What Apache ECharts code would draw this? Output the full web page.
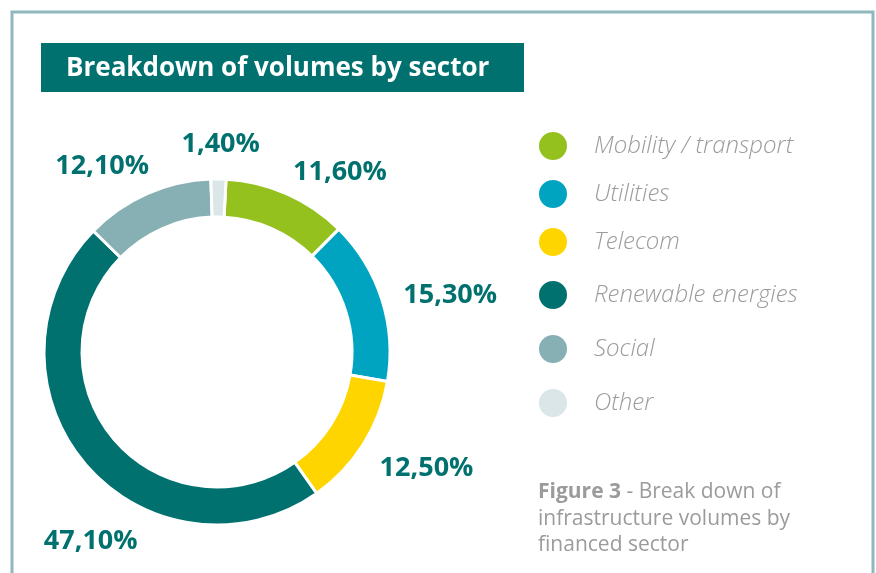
<!DOCTYPE html>
<html>
<head>
<meta charset="utf-8">
<title>Breakdown of volumes by sector</title>
<script src="https://cdn.jsdelivr.net/npm/echarts@6/dist/echarts.min.js"></script>
<style>
    html, body { margin: 0; padding: 0; background: #fff; }
    #sector { width: 876px; height: 573px; }
</style>
</head>
<body>
<div id="sector"></div>
<script>
    // 数据
    var sectors = ['Mobility / transport', 'Utilities', 'Telecom', 'Renewable energies', 'Social', 'Other'];
    var shares = [11.6, 15.3, 12.5, 47.1, 12.1, 1.4];
    var colors = ['#95c11f', '#00a4c1', '#ffd500', '#00716f', '#87b0b5', '#dae6e8'];
    // label nudges (dx, dy) from the default outside position
    var labelNudge = [[-3, -12], [7, -1], [3, 18], [65, 71], [11, -18], [-42, -25]];

    var pieData = [];
    for (var i = 0; i < sectors.length; i++) {
        pieData.push({ name: sectors[i], value: shares[i], itemStyle: { color: colors[i] } });
    }

    var font = 'Open Sans';
    var chart = echarts.init(document.getElementById('sector'));
    var option = {
        animation: false,
        title: [
            {
                text: 'Breakdown of volumes by sector',
                left: 61,
                top: 51,
                textStyle: { color: '#fff', fontFamily: font, fontWeight: 'bold', fontSize: 26 }
            },
            {
                text: '{b|Figure 3} - Break down of\ninfrastructure volumes by\nfinanced sector',
                left: 533,
                top: 474,
                textStyle: {
                    color: '#9b9b9b', fontFamily: font, fontWeight: 'normal', fontSize: 21, lineHeight: 26.5,
                    rich: { b: { fontWeight: 'bold', color: '#9b9b9b', fontFamily: font, fontSize: 21 } }
                }
            }
        ],
        graphic: [
            {
                type: 'rect', z: -1,
                shape: { x: 12, y: 12, width: 861, height: 620 },
                style: { fill: 'none', stroke: '#8fb8bd', lineWidth: 3 }
            },
            {
                type: 'rect', z: -1,
                shape: { x: 41, y: 43, width: 483, height: 49 },
                style: { fill: '#00716f' }
            }
        ],
        legend: [
            {
                orient: 'vertical', left: 532, top: 125,
                data: sectors.slice(0, 3),
                icon: 'circle', itemWidth: 30, itemHeight: 30, itemGap: 16,
                selectedMode: false,
                textStyle: { color: '#9b9b9b', fontFamily: font, fontStyle: 'italic', fontWeight: 300, fontSize: 24, padding: [0, 0, 0, 21] }
            },
            {
                orient: 'vertical', left: 532, top: 274,
                data: sectors.slice(3),
                icon: 'circle', itemWidth: 30, itemHeight: 30, itemGap: 22,
                selectedMode: false,
                textStyle: { color: '#9b9b9b', fontFamily: font, fontStyle: 'italic', fontWeight: 300, fontSize: 24, padding: [0, 0, 0, 21] }
            }
        ],
        series: [
            {
                type: 'pie',
                center: [217, 352],
                radius: [135, 173],
                startAngle: 87,
                clockwise: true,
                avoidLabelOverlap: false,
                itemStyle: { borderColor: '#fff', borderWidth: 3 },
                label: {
                    show: true,
                    position: 'outside',
                    formatter: function (p) {
                        return p.value.toFixed(2).replace('.', ',') + '%';
                    },
                    color: '#00716f',
                    fontFamily: font,
                    fontWeight: 'bold',
                    fontSize: 27
                },
                labelLine: { show: false, length: 10, length2: 0 },
                labelLayout: function (p) {
                    var n = labelNudge[p.dataIndex];
                    return { dx: n[0], dy: n[1] };
                },
                emphasis: { disabled: true },
                data: pieData
            }
        ]
    };
    chart.setOption(option);
</script>
</body>
</html>
